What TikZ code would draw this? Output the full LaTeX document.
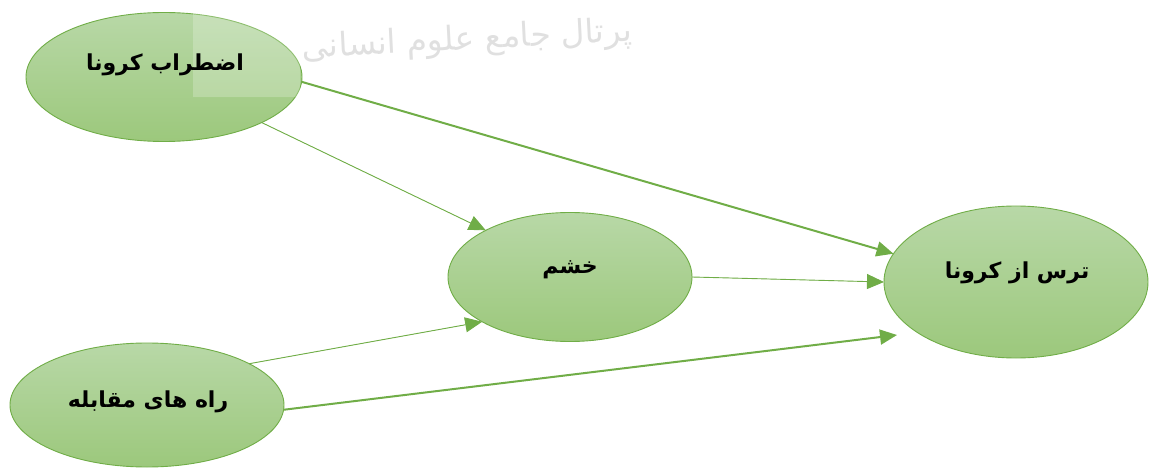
\documentclass[tikz,border=0pt]{standalone}
\usepackage{fontspec}
\usetikzlibrary{shapes.geometric,arrows.meta,calc}
\TeXXeTstate=1
\newfontfamily\arabicfont[Script=Arabic]{DejaVu Sans}
\definecolor{edgegreen}{RGB}{112,173,71}
\definecolor{topgreen}{RGB}{184,216,167}
\definecolor{botgreen}{RGB}{156,200,124}
\definecolor{wmgray}{RGB}{224,224,224}
\tikzset{
  oval/.style={ellipse, draw=edgegreen, line width=0.9pt, top color=topgreen, bottom color=botgreen, inner sep=0pt, outer sep=0pt},
  lbl/.style={font=\arabicfont\bfseries\fontsize{22}{25}\selectfont, inner sep=0pt},
  thinarrow/.style={draw=edgegreen, line width=0.9pt, -{Triangle[length=17pt,width=15pt]}, fill=edgegreen},
  thickarrow/.style={draw=edgegreen, line width=2pt, -{Triangle[length=17pt,width=15pt]}, fill=edgegreen}
}
\begin{document}
\begin{tikzpicture}[x=1pt,y=1pt]
\useasboundingbox (0,0) rectangle (1154,469);
% watermark
\node[font=\arabicfont\fontsize{33}{37}\selectfont, text=wmgray, rotate=3, inner sep=0pt] (wm) at (467,428) {\beginR پرتال جامع علوم انسانی\endR};
% nodes
\node[oval, minimum width=276pt, minimum height=129pt] (A) at (164,392) {};
\node[oval, minimum width=244pt, minimum height=129pt] (B) at (570,192) {};
\node[oval, minimum width=264pt, minimum height=152pt] (C) at (1016,187) {};
\node[oval, minimum width=274pt, minimum height=124pt] (D) at (147,64) {};
% watermark overlay rectangle
\fill[white, opacity=0.22] (193,372) rectangle (300,469);
% labels
\node[lbl] (tA) at ($(A.center)+(1,12)$) {\beginR اضطراب کرونا\endR};
\node[lbl] (tB) at ($(B.center)+(0,7)$) {\beginR خشم\endR};
\node[lbl] (tC) at ($(C.center)+(1,9)$) {\beginR ترس از کرونا\endR};
\node[lbl] (tD) at ($(D.center)+(1,3)$) {\beginR راه های مقابله\endR};
% connectors
\coordinate (dc) at ($(C.center)+(-119,-53)$);
\draw[thickarrow] (A.-2) -- (C.167.9);
\draw[thinarrow] (A.-25.1) -- (B.151.1);
\draw[thinarrow] (B.0) -- (C.180);
\draw[thinarrow] (D.22.9) -- (B.207.9);
\draw[thickarrow] (D.-2) -- (dc);
\end{tikzpicture}
\end{document}
